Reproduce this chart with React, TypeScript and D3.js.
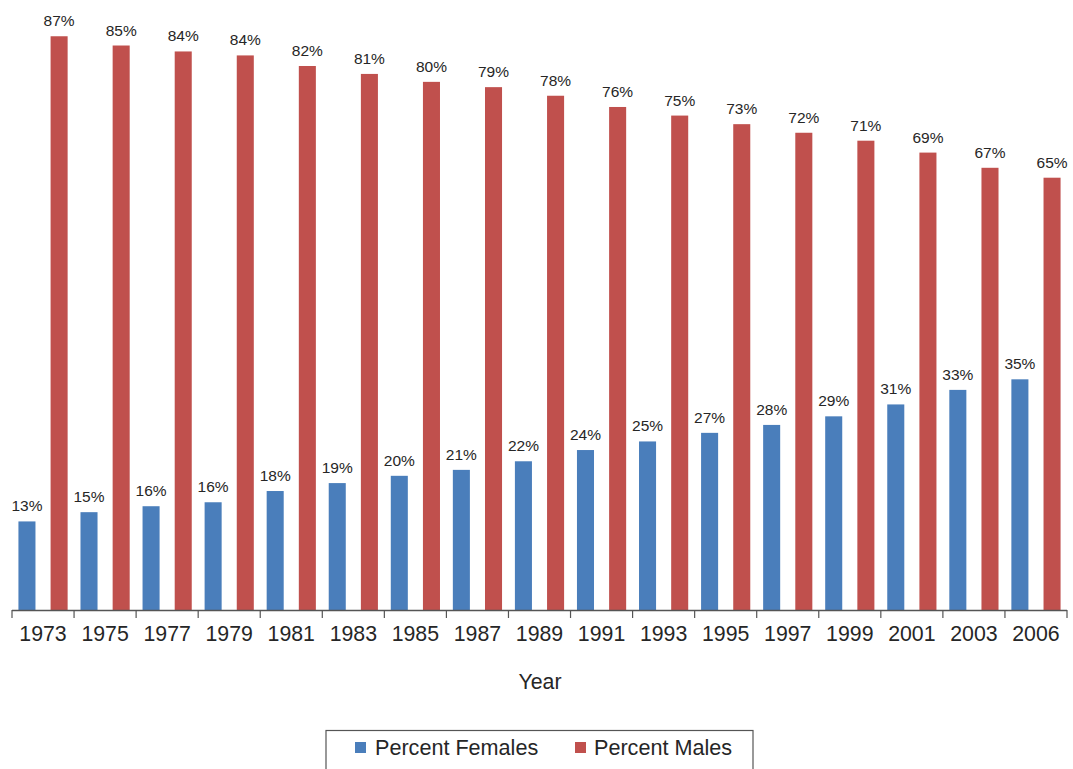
import React from "react";
import * as d3 from "d3";

const years = ["1973","1975","1977","1979","1981","1983","1985","1987","1989","1991","1993","1995","1997","1999","2001","2003","2006"];
const females = [13.4,14.8,15.7,16.3,18.0,19.2,20.3,21.2,22.5,24.2,25.5,26.8,28.0,29.3,31.1,33.3,34.9];
const males = [86.8,85.4,84.5,83.9,82.3,81.1,79.9,79.1,77.8,76.1,74.8,73.5,72.2,71.0,69.2,66.9,65.4];
const femaleLabels = ["13%","15%","16%","16%","18%","19%","20%","21%","22%","24%","25%","27%","28%","29%","31%","33%","35%"];
const maleLabels = ["87%","85%","84%","84%","82%","81%","80%","79%","78%","76%","75%","73%","72%","71%","69%","67%","65%"];
const seriesNames = ["Percent Females","Percent Males"];
const colors = ["#4A7EBB","#C0504D"];

const W = 1073, H = 769;
const x0 = 12, x1 = 1067, baseY = 610;
const font = "'Liberation Sans', Arial, sans-serif";

export default function App() {
  const x = d3.scaleBand<string>().domain(years).range([x0, x1]).paddingInner(0).paddingOuter(0);
  const inner = d3.scaleBand<string>().domain(["f","m"]).range([0, x.bandwidth()]).paddingInner(0.47).paddingOuter(0.2).align(0.5);
  const y = d3.scaleLinear().domain([0, 100]).range([baseY, baseY - 661]);
  const bw = inner.bandwidth();
  const ticks = years.map((yr) => x(yr)!).concat([x1]);

  return (
    <svg width={W} height={H} style={{ position: "absolute", left: 0, top: 0, background: "#fff" }} fontFamily={font}>
      {years.map((yr, i) => {
        const gx = x(yr)!;
        const fx = gx + inner("f")!;
        const mx = gx + inner("m")!;
        return (
          <g key={yr}>
            <rect x={fx} y={y(females[i])} width={bw} height={baseY - y(females[i])} fill={colors[0]} />
            <rect x={mx} y={y(males[i])} width={bw} height={baseY - y(males[i])} fill={colors[1]} />
            <text x={fx + bw / 2} y={y(females[i]) - 10} textAnchor="middle" fontSize={15.5} fill="#262626">{femaleLabels[i]}</text>
            <text x={mx + bw / 2} y={y(males[i]) - 10} textAnchor="middle" fontSize={15.5} fill="#262626">{maleLabels[i]}</text>
            <text x={gx + x.bandwidth() / 2} y={641} textAnchor="middle" fontSize={21.3} fill="#262626">{yr}</text>
          </g>
        );
      })}
      <line x1={x0} x2={x1} y1={baseY + 0.5} y2={baseY + 0.5} stroke="#555" strokeWidth={1.5} />
      {ticks.map((t, i) => (
        <line key={i} x1={t} x2={t} y1={baseY} y2={baseY + 8} stroke="#555" strokeWidth={1.2} />
      ))}
      <text x={540} y={689} textAnchor="middle" fontSize={21.3} fill="#262626">Year</text>
      <rect x={326} y={730.5} width={427} height={50} fill="none" stroke="#555" strokeWidth={1.2} />
      <rect x={355} y={742} width={11} height={11} fill={colors[0]} />
      <text x={375} y={755} fontSize={21.6} fill="#262626">{seriesNames[0]}</text>
      <rect x={575} y={742} width={11} height={11} fill={colors[1]} />
      <text x={594} y={755} fontSize={21.6} fill="#262626">{seriesNames[1]}</text>
    </svg>
  );
}
